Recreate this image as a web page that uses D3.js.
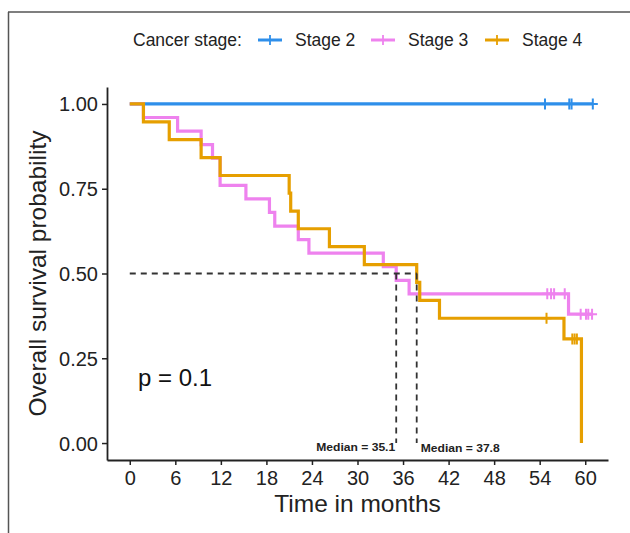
<!DOCTYPE html>
<html>
<head>
<meta charset="utf-8">
<script src="https://cdn.jsdelivr.net/npm/d3@7"></script>
<style>
  body { margin: 0; background: #fff; }
  svg { font-family: "Liberation Sans", Arial, sans-serif; }
</style>
</head>
<body>
<svg width="630" height="533"></svg>
<script>
// months at which each curve steps down, and the survival after the step
const stage2Times = [0]
const stage2Surv = [1]
const stage2End = 61.0
const stage2Censor = [54.7, 57.9, 58.2, 61.0]

const stage3Times = [0, 1.8, 6.3, 9.4, 10.9, 11.9, 15.3, 18.4, 19.1, 22.2, 23.6, 33.4, 35.1, 36.8, 57.8]
const stage3Surv = [1, 0.96, 0.92, 0.88, 0.84, 0.76, 0.72, 0.68, 0.64, 0.60, 0.56, 0.52, 0.48, 0.44, 0.38]
const stage3End = 60.9
const stage3Censor = [55.0, 55.5, 55.9, 57.3, 59.4, 60.1, 60.4, 60.9]

const stage4Times = [0, 1.8, 5.2, 9.4, 11.9, 21.0, 21.2, 22.2, 26.3, 30.9, 37.8, 38.2, 40.8, 57.2, 59.5]
const stage4Surv = [1, 0.947, 0.895, 0.842, 0.789, 0.737, 0.684, 0.632, 0.579, 0.526, 0.474, 0.421, 0.368, 0.307, 0]
const stage4End = 59.5
const stage4Censor = [54.9, 58.3, 58.6, 58.9]

const medians = [35.1, 37.8]
const xTicks = [0, 6, 12, 18, 24, 30, 36, 42, 48, 54, 60]
const yTicks = [0, 0.25, 0.5, 0.75, 1]
const stageNames = ['Stage 2', 'Stage 3', 'Stage 4']
const stageColors = ['#2E8FEA', '#EE82EE', '#E69F00']

const svg = d3.select('svg')

// figure frame (only left and top edges visible)
svg.append('line').attr('x1', 8.5).attr('y1', 12).attr('x2', 8.5).attr('y2', 533)
  .attr('stroke', '#555').attr('stroke-width', 1.5)
svg.append('line').attr('x1', 8).attr('y1', 12).attr('x2', 630).attr('y2', 12)
  .attr('stroke', '#555').attr('stroke-width', 1.5)

const x = d3.scaleLinear().domain([-3, 63]).range([107, 608])
const y = d3.scaleLinear().domain([-0.05, 1.05]).range([460, 87])

// axes
const xAxis = svg.append('g')
  .attr('transform', `translate(0,${y(-0.05)})`)
  .call(d3.axisBottom(x).tickValues(xTicks).tickSize(5).tickSizeOuter(0).tickPadding(6).tickFormat(d3.format('d')))
const yAxis = svg.append('g')
  .attr('transform', `translate(${x(-3)},0)`)
  .call(d3.axisLeft(y).tickValues(yTicks).tickSize(5).tickSizeOuter(0).tickPadding(4).tickFormat(d3.format('.2f')))
;[xAxis, yAxis].forEach(g => {
  g.select('.domain').attr('stroke', '#222').attr('stroke-width', 1.8)
  g.selectAll('.tick line').attr('stroke', '#222').attr('stroke-width', 1.5)
  g.selectAll('.tick text').attr('fill', '#222').style('font-size', '20px')
    .style('font-family', '"Liberation Sans", Arial, sans-serif')
})
xAxis.selectAll('.tick text').attr('dy', '0.71em')
yAxis.selectAll('.tick text').attr('dy', '0.35em')

svg.append('text').attr('x', x(30)).attr('y', 512).attr('text-anchor', 'middle')
  .style('font-size', '24.5px').attr('fill', '#222').text('Time in months')
svg.append('text').attr('transform', `translate(46,${y(0.5)}) rotate(-90)`)
  .attr('text-anchor', 'middle').style('font-size', '24.5px').attr('fill', '#222')
  .text('Overall survival probability')

// survival curves
const line = d3.line().x(d => x(d[0])).y(d => y(d[1])).curve(d3.curveStepAfter)
const series = [
  {times: stage2Times, surv: stage2Surv, end: stage2End, censor: stage2Censor},
  {times: stage3Times, surv: stage3Surv, end: stage3End, censor: stage3Censor},
  {times: stage4Times, surv: stage4Surv, end: stage4End, censor: stage4Censor}
]
const survAt = (s, t) => {
  let v = s.surv[0]
  s.times.forEach((tt, i) => { if (tt <= t) v = s.surv[i] })
  return v
}
series.forEach((s, k) => {
  const pts = s.times.map((t, i) => [t, s.surv[i]])
  pts.push([s.end, s.surv[s.surv.length - 1]])
  svg.append('path').datum(pts).attr('d', line)
    .attr('fill', 'none').attr('stroke', stageColors[k]).attr('stroke-width', 3.2)
})
series.forEach((s, k) => {
  svg.append('g').selectAll('path').data(s.censor).join('path')
    .attr('d', t => {
      const cx = x(t), cy = y(survAt(s, t))
      return `M${cx - 5},${cy}H${cx + 5}M${cx},${cy - 5.5}V${cy + 5.5}`
    })
    .attr('stroke', stageColors[k]).attr('stroke-width', 2).attr('fill', 'none')
})

// median lines
const dash = g => g.attr('stroke', '#333').attr('stroke-width', 1.8)
  .attr('stroke-dasharray', '6,5').attr('fill', 'none')
svg.append('line').attr('x1', x(0)).attr('x2', x(d3.max(medians)))
  .attr('y1', y(0.5)).attr('y2', y(0.5)).call(dash)
svg.append('g').selectAll('line').data(medians).join('line')
  .attr('x1', d => x(d)).attr('x2', d => x(d))
  .attr('y1', y(0.5)).attr('y2', y(0)).call(dash)
svg.append('text').attr('x', x(medians[0]) - 1).attr('y', 451)
  .attr('text-anchor', 'end').style('font-size', '11px').style('font-weight', 'bold')
  .attr('textLength', 79).attr('lengthAdjust', 'spacingAndGlyphs')
  .attr('fill', '#222').text('Median = ' + medians[0])
svg.append('text').attr('x', x(medians[1]) + 4).attr('y', 452)
  .style('font-size', '11px').style('font-weight', 'bold')
  .attr('textLength', 79).attr('lengthAdjust', 'spacingAndGlyphs')
  .attr('fill', '#222').text('Median = ' + medians[1])

// p value
svg.append('text').attr('x', 138).attr('y', 386).style('font-size', '24px')
  .attr('fill', '#111').text('p = 0.1')

// legend
svg.append('text').attr('x', 133).attr('y', 46).style('font-size', '17.5px')
  .attr('fill', '#222').text('Cancer stage:')
const legendX = [258, 371, 485]
stageNames.forEach((name, k) => {
  const lx = legendX[k]
  svg.append('line').attr('x1', lx).attr('x2', lx + 24).attr('y1', 40).attr('y2', 40)
    .attr('stroke', stageColors[k]).attr('stroke-width', 3)
  svg.append('line').attr('x1', lx + 12).attr('x2', lx + 12).attr('y1', 35).attr('y2', 45)
    .attr('stroke', stageColors[k]).attr('stroke-width', 1.8)
  svg.append('text').attr('x', lx + 37).attr('y', 46).style('font-size', '17.5px')
    .attr('fill', '#222').text(name)
})
</script>
</body>
</html>
